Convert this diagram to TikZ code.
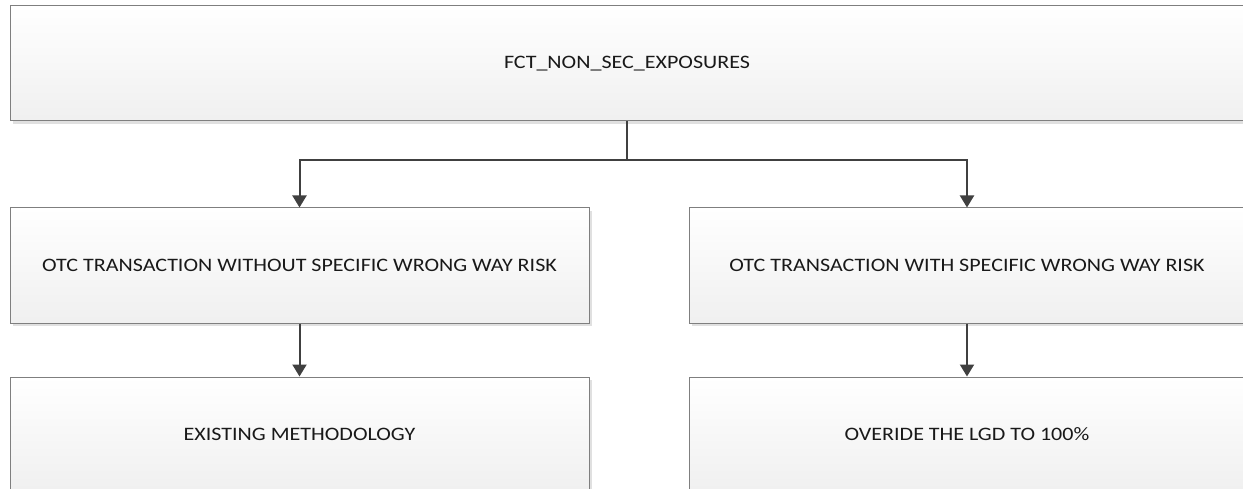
\documentclass[tikz,border=0pt]{standalone}
\usepackage{fontspec}
\usepackage{graphicx}
\setmainfont{Carlito}
\usetikzlibrary{arrows.meta,shadows}
\definecolor{boxline}{HTML}{7F7F7F}
\definecolor{conncol}{HTML}{404040}
\newcommand{\wtxt}[1]{\scalebox{1.16}[1]{#1}}
\tikzset{
  box/.style={draw=boxline, line width=1pt, rectangle, minimum height=115pt,
    top color=white, bottom color=black!6, font=\fontsize{19}{22}\selectfont,
    text=black!90,
    general shadow={fill=black!12, shadow xshift=3pt, shadow yshift=-3pt}},
  conn/.style={draw=conncol, line width=2pt},
  arr/.style={conn, -{Triangle[width=14pt,length=12pt]}}
}
\begin{document}
\begin{tikzpicture}[x=1pt,y=-1pt]
\useasboundingbox (0,0) rectangle (1243,489);
\clip (0,0) rectangle (1243,489);
\fill[white] (0,0) rectangle (1243,489);
\node[box, minimum width=1234pt] (top) at (627,63.5) {\wtxt{FCT\_NON\_SEC\_EXPOSURES}};
\node[box, minimum width=579pt] (ml) at (299.5,265.5) {\wtxt{OTC TRANSACTION WITHOUT SPECIFIC WRONG WAY RISK}};
\node[box, minimum width=556pt] (mr) at (967,265.5) {\wtxt{OTC TRANSACTION WITH SPECIFIC WRONG WAY RISK}};
\node[box, minimum width=579pt] (bl) at (299.5,434.5) {\wtxt{EXISTING METHODOLOGY}};
\node[box, minimum width=556pt] (br) at (967,434.5) {\wtxt{OVERIDE THE LGD TO 100\%}};
\coordinate (j) at (627,160);
\draw[conn] (top.south) -- (j);
\draw[arr] (j) -| (ml.north);
\draw[arr] (j) -| (mr.north);
\draw[arr] (ml.south) -- (bl.north);
\draw[arr] (mr.south) -- (br.north);
\end{tikzpicture}
\end{document}
